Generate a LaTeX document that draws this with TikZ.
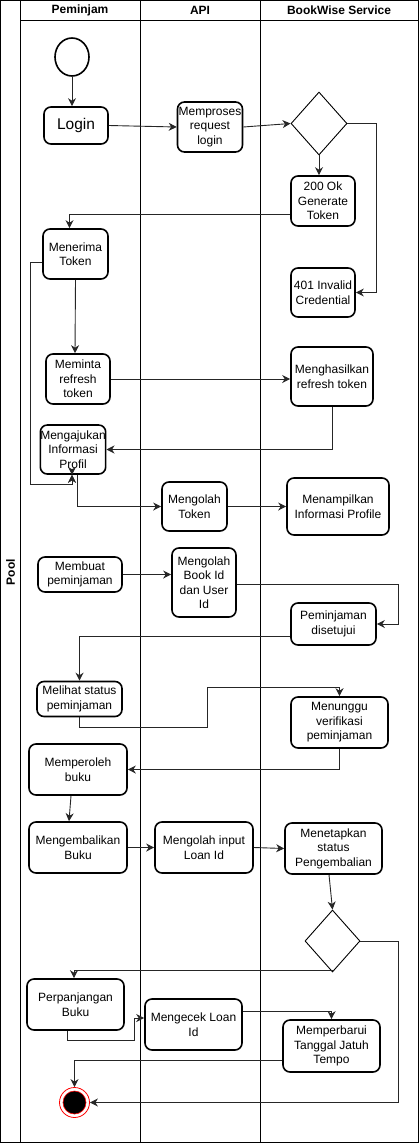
\documentclass[tikz,border=0pt]{standalone}
\usepackage{fontspec}
\setmainfont{Liberation Sans}
\usetikzlibrary{arrows.meta,shapes.geometric,calc}

\tikzset{
    act/.style={draw, line width=1.6pt, rounded corners=7pt, align=center,
        inner sep=1pt, font=\fontsize{12}{14.5}\selectfont},
    gate/.style={draw, diamond, line width=0.9pt, inner sep=0pt},
    flow/.style={-{Stealth[length=8pt,width=8pt,inset=2.5pt]}, line width=0.9pt, black!85},
}

\begin{document}
\begin{tikzpicture}[x=1pt,y=-1pt]

    \useasboundingbox (0,0) rectangle (419,1143);

    % Draw pool & lanes
    \draw[line width=1pt] (0.5,0.5) rectangle (418,1142);
    \draw[line width=1pt] (20.5,0.5) -- (20.5,1142);
    \draw[line width=1pt] (140.5,0.5) -- (140.5,1142);
    \draw[line width=1pt] (260.5,0.5) -- (260.5,1142);
    \draw[line width=1pt] (20.5,20.5) -- (418,20.5);

    \node[rotate=90, font=\fontsize{12}{14}\bfseries] (pool) at (10.5,572) {Pool};
    \node[font=\fontsize{12}{14}\bfseries] (lane1) at (80,10.5) {Peminjam};
    \node[font=\fontsize{12}{14}\bfseries] (lane2) at (200,10.5) {API};
    \node[font=\fontsize{12}{14}\bfseries] (lane3) at (339,10.5) {BookWise Service};

    % Start & end
    \node[draw, ellipse, line width=1.6pt, minimum width=34pt, minimum height=38pt,
        inner sep=0pt] (start) at (72,57) {};
    \node[draw=red, circle, line width=0.8pt, minimum size=30pt, inner sep=0pt] (stop) at (74.5,1102.5) {};
    \fill[black, draw=red, line width=0.6pt] (stop.center) circle (11.5);

    % Peminjam lane
    \node[act, minimum width=64pt, minimum height=37pt,
        font=\fontsize{15.5}{17}\selectfont] (login) at (76,125.5) {Login};
    \node[act, minimum width=65pt, minimum height=50pt] (terima) at (75.5,254) {Menerima\\Token};
    \node[act, minimum width=64pt, minimum height=50pt] (minta) at (78,379) {Meminta\\refresh\\token};
    \node[act, minimum width=64pt, minimum height=49pt, inner sep=0pt] (ajukan) at (73,449.5) {Mengajukan\\Informasi\\Profil};
    \node[act, minimum width=84pt, minimum height=35pt] (buat) at (80,574.5) {Membuat\\peminjaman};
    \node[act, minimum width=85pt, minimum height=35pt] (lihat) at (79.5,699) {Melihat status\\peminjaman};
    \node[act, minimum width=98pt, minimum height=51pt] (peroleh) at (78,769.5) {Memperoleh\\buku};
    \node[act, minimum width=98pt, minimum height=51pt] (kembali) at (78,847.5) {Mengembalikan\\Buku};
    \node[act, minimum width=97pt, minimum height=51pt] (panjang) at (75.5,1004.5) {Perpanjangan\\Buku};

    % API lane
    \node[act, minimum width=65pt, minimum height=50pt, inner sep=0pt] (proses) at (210,127) {Memproses\\request\\login};
    \node[act, minimum width=65pt, minimum height=49pt] (olahtoken) at (194.5,506.5) {Mengolah\\Token};
    \node[act, minimum width=64pt, minimum height=69pt] (olahbook) at (204,582.5) {Mengolah\\Book Id\\dan User\\Id};
    \node[act, minimum width=98pt, minimum height=51pt] (olahloan) at (204,847.5) {Mengolah input\\Loan Id};
    \node[act, minimum width=97pt, minimum height=51pt] (cek) at (193.5,1024.5) {Mengecek Loan\\Id};

    % BookWise Service lane
    \node[gate, minimum width=56pt, minimum height=63pt] (dec1) at (319,123.5) {};
    \node[act, minimum width=64pt, minimum height=50pt] (ok200) at (323,201) {200 Ok\\Generate\\Token};
    \node[act, minimum width=64pt, minimum height=49pt] (inv401) at (323,292.5) {401 Invalid\\Credential};
    \node[act, minimum width=82pt, minimum height=59pt] (hasil) at (332,376.5) {Menghasilkan\\refresh token};
    \node[act, minimum width=102pt, minimum height=57pt] (tampil) at (338,506.5) {Menampilkan\\Informasi Profile};
    \node[act, minimum width=85pt, minimum height=42pt] (setuju) at (333.5,624) {Peminjaman\\disetujui};
    \node[act, minimum width=97pt, minimum height=51pt] (tunggu) at (339.5,722.5) {Menunggu\\verifikasi\\peminjaman};
    \node[act, minimum width=97pt, minimum height=51pt] (tetapkan) at (333.5,848.5) {Menetapkan\\status\\Pengembalian};
    \node[gate, minimum width=55pt, minimum height=62pt] (dec2) at (332.5,941) {};
    \node[act, minimum width=97pt, minimum height=52pt] (baru) at (331.5,1046) {Memperbarui\\Tanggal Jatuh\\Tempo};

    % Draw connectors
    \draw[flow] (start.south) -- (start.south |- login.north);
    \draw[flow] (login.east) -- (proses.west);
    \draw[flow] (proses.east) -- (dec1.west);
    \draw[flow] (dec1.south) -- (dec1.south |- ok200.north);
    \draw[flow] (dec1.east) -- ++(29,0) |- (inv401.east);
    \draw[flow] ($(ok200.west)+(0,13)$) -| ($(terima.north)+(-6,0)$);
    \draw[flow] (terima.south) -- ($(minta.north)+(-3,0)$);
    \draw[flow] (minta.east) -- (minta.east -| hasil.west);
    \draw[flow] (hasil.south) |- (ajukan.east);
    \draw[flow] ($(terima.west)+(0,8)$) -| (30,484) -| ($(ajukan.south)+(-1,0)$);
    \draw[flow, {Stealth[length=8pt,width=8pt,inset=2.5pt]}-{Stealth[length=8pt,width=8pt,inset=2.5pt]}]
        ($(ajukan.south)+(-1,0)$) -- ($(ajukan.south)+(-1,0)$ |- buat.north);
    \draw[flow] ($(ajukan.south)+(4,0)$) |- (olahtoken.west);
    \draw[flow] (olahtoken.east) -- (tampil.west);
    \draw[flow] (buat.east) -- (buat.east -| olahbook.west);
    \draw[flow] ($(olahbook.east)+(0,1.5)$) -- ++(162,0) |- (setuju.east);
    \draw[flow] ($(setuju.west)+(0,12.5)$) -| (lihat.north);
    \draw[flow] (lihat.south) -- ++(0,10) -| (207,687) -| (tunggu.north);
    \draw[flow] (tunggu.south) |- (peroleh.east);
    \draw[flow] ($(peroleh.south)+(-7,0)$) -- ($(kembali.north)+(-9,0)$);
    \draw[flow] (kembali.east) -- (olahloan.west);
    \draw[flow] (olahloan.east) -- (tetapkan.west);
    \draw[flow] ($(tetapkan.south)+(-4.5,0)$) -- (dec2.north);
    \draw[flow] (dec2.east) -- ++(38,0) |- (stop.east);
    \draw[flow] ($(dec2.south)+(0,-2)$) -| ($(panjang.north)+(-1.5,0)$);
    \draw[flow] ($(panjang.south)+(-8.5,0)$) -- ++(0,10) -| ($(cek.west)+(-9.5,-6.5)$) -- ($(cek.west)+(0,-6.5)$);
    \draw[flow] ($(cek.east)+(0,-13.5)$) -| (baru.north);
    \draw[flow] ($(baru.west)+(0,14)$) -| (stop.north);

\end{tikzpicture}
\end{document}
